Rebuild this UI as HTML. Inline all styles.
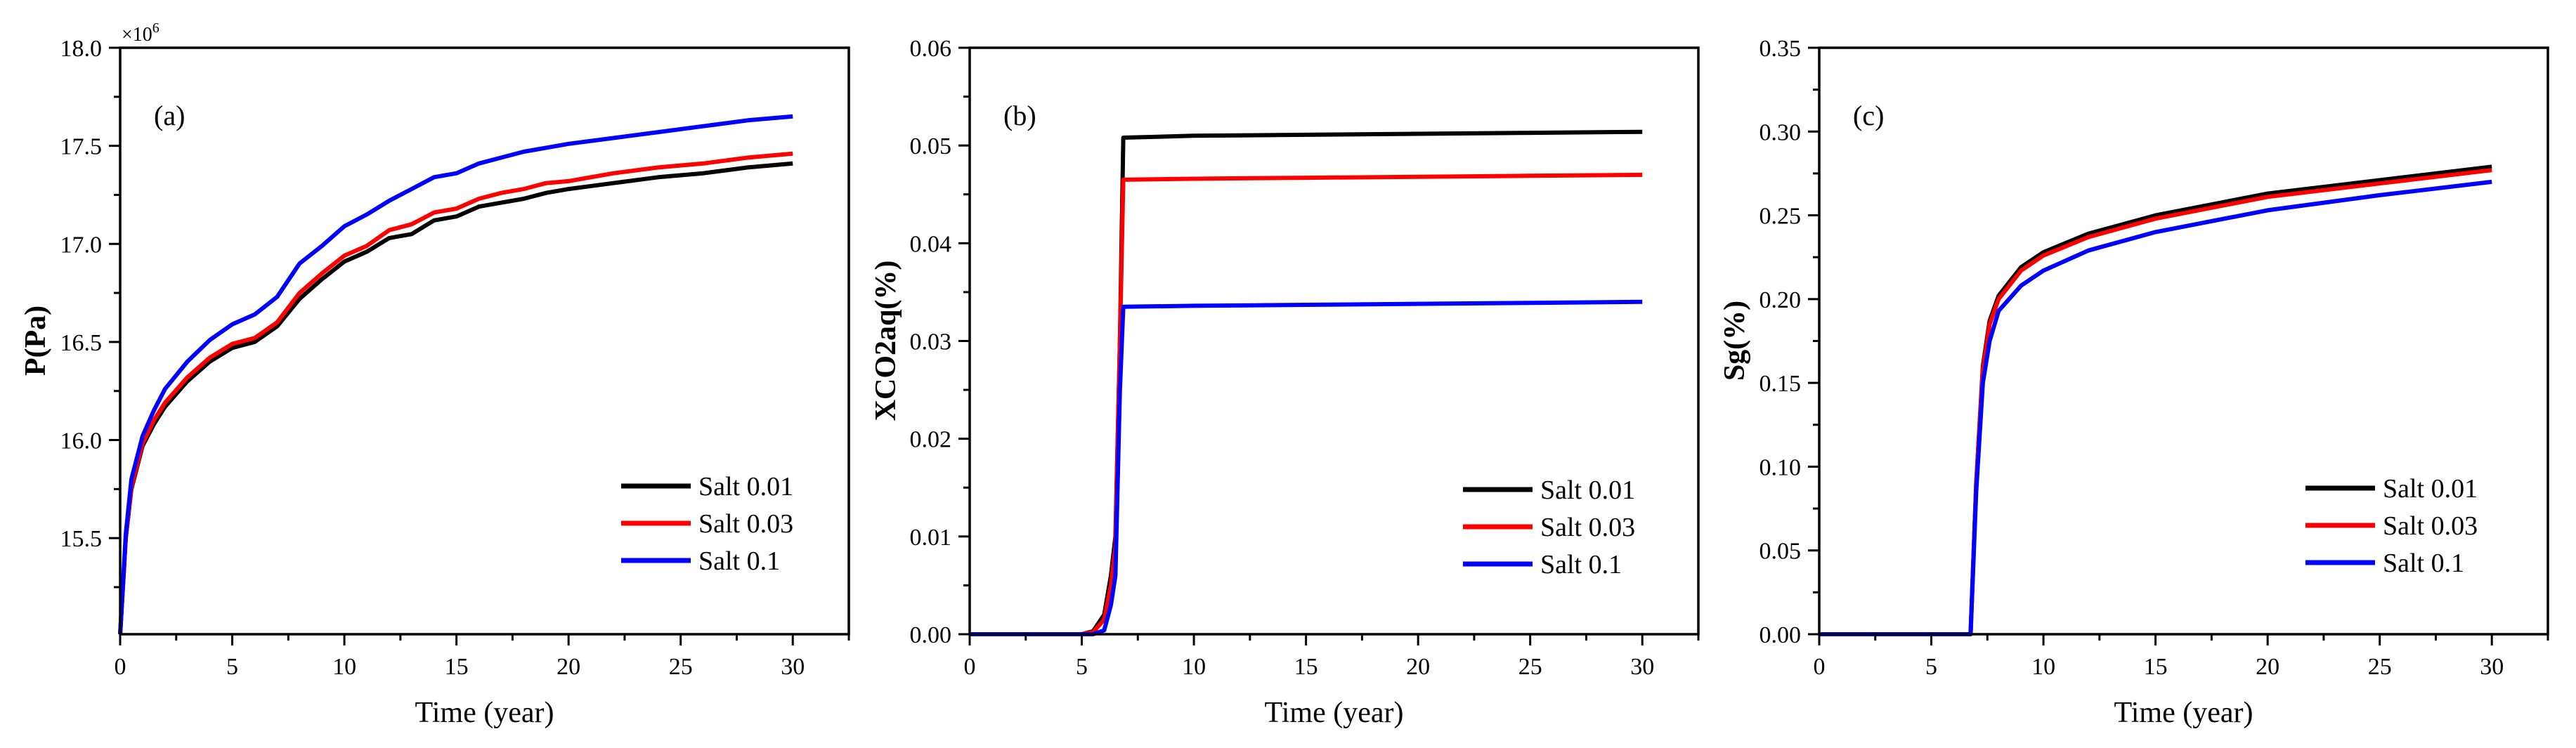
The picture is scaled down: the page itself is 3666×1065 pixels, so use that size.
<!DOCTYPE html>
<html><head><meta charset="utf-8"><style>
html,body{margin:0;padding:0;background:#fff;}
svg{display:block;}
text{font-family:"Liberation Serif","Times New Roman",serif;}
</style></head><body>
<svg id="fig" width="3666" height="1065" viewBox="0 0 3666 1065" xmlns="http://www.w3.org/2000/svg" font-family="Liberation Serif, serif"></svg>
<script>
// ---- data ----
const years = [0,0.25,0.5,1,1.5,2,3,4,5,6,7,8,9,10,11,12,13,14,15,16,17,18,19,20,22,24,26,28,30];
const pBlack = [15.01,15.5,15.75,15.97,16.08,16.17,16.30,16.40,16.47,16.50,16.58,16.72,16.82,16.91,16.96,17.03,17.05,17.12,17.14,17.19,17.21,17.23,17.26,17.28,17.31,17.34,17.36,17.39,17.41];
const pRed   = [15.01,15.5,15.76,15.98,16.10,16.19,16.32,16.42,16.49,16.52,16.60,16.75,16.85,16.94,16.99,17.07,17.10,17.16,17.18,17.23,17.26,17.28,17.31,17.32,17.36,17.39,17.41,17.44,17.46];
const pBlue  = [15.01,15.52,15.80,16.02,16.15,16.26,16.40,16.51,16.59,16.64,16.73,16.90,16.99,17.09,17.15,17.22,17.28,17.34,17.36,17.41,17.44,17.47,17.49,17.51,17.54,17.57,17.60,17.63,17.65];

const xYears = [0,5,5.5,6,6.3,6.5,6.7,6.85,10,15,20,25,30];
const xBlack = [0,0,0.0003,0.002,0.006,0.010,0.030,0.0508,0.0510,0.0511,0.0512,0.0513,0.0514];
const xRed   = [0,0,0.0002,0.0015,0.005,0.009,0.030,0.0465,0.0466,0.0467,0.0468,0.0469,0.0470];
const xBlue  = [0,0,0,0.0004,0.003,0.006,0.025,0.0335,0.0336,0.0337,0.0338,0.0339,0.0340];

const sYears = [0,6.75,7.0,7.3,7.6,8,9,10,12,15,20,25,30];
const sBlack = [0,0,0.09,0.16,0.187,0.202,0.219,0.228,0.239,0.250,0.263,0.271,0.279];
const sRed   = [0,0,0.09,0.158,0.185,0.200,0.217,0.226,0.237,0.248,0.261,0.269,0.277];
const sBlue  = [0,0,0.085,0.15,0.175,0.193,0.208,0.217,0.229,0.240,0.253,0.262,0.270];

const xTicks = [0,5,10,15,20,25,30];
const pTicks = [15.5,16.0,16.5,17.0,17.5,18.0];
const pTickLabels = ["15.5","16.0","16.5","17.0","17.5","18.0"];
const xcTicks = [0,0.01,0.02,0.03,0.04,0.05,0.06];
const xcTickLabels = ["0.00","0.01","0.02","0.03","0.04","0.05","0.06"];
const sTicks = [0,0.05,0.10,0.15,0.20,0.25,0.30,0.35];
const sTickLabels = ["0.00","0.05","0.10","0.15","0.20","0.25","0.30","0.35"];
const legendLabels = ["Salt 0.01","Salt 0.03","Salt 0.1"];
const colors = ["#000000","#ff0000","#0000ff"];

const NS="http://www.w3.org/2000/svg";
const svg=document.getElementById('fig');
function mk(tag,attrs,parent){const e=document.createElementNS(NS,tag);for(const k in attrs)e.setAttribute(k,attrs[k]);if(tag==='text')e.setAttribute('font-family','Liberation Serif, serif');(parent||svg).appendChild(e);return e;}

function panel(cfg){
  const L=cfg.left,R=L+1037,T=68,B=903;
  const g=mk('g',{});
  
  
  const sx=v=>L+(v-0)/(32.5)*(R-L);
  const sy=v=>B-(v-cfg.ymin)/(cfg.ymax-cfg.ymin)*(B-T);
  cfg.series.forEach((s,i)=>{
    const d=cfg.xs.map((x,j)=>(j?'L':'M')+sx(x).toFixed(1)+','+sy(s[j]).toFixed(1)).join(' ');
    const p=mk('path',{d:d,fill:'none',stroke:colors[i],'stroke-width':6,'stroke-linejoin':'round'},g);
    
    
  });
  const fr=mk('rect',{x:L,y:T,width:R-L,height:B-T,fill:'none',stroke:'#000','stroke-width':3.5},g);
  
  
  for(let v=0;v<=32.5+1e-9;v+=2.5){
    const major=Math.abs(v%5)<1e-9;
    mk('line',{x1:sx(v),x2:sx(v),y1:B,y2:B+(major?16:9),stroke:'#000','stroke-width':3},g);
  }
  xTicks.forEach(v=>{
    const t=mk('text',{x:sx(v),y:960,'font-size':34,'text-anchor':'middle'},g);
    t.textContent=v;
    
    
  });
  cfg.yticks.forEach((v,i)=>{
    mk('line',{x1:L-16,x2:L,y1:sy(v),y2:sy(v),stroke:'#000','stroke-width':3},g);
    const m=v-cfg.ystep/2;
    if(m>cfg.ymin) mk('line',{x1:L-9,x2:L,y1:sy(m),y2:sy(m),stroke:'#000','stroke-width':3},g);
    const t=mk('text',{x:L-26,y:sy(v)+12,'font-size':34,'text-anchor':'end'},g);
    t.textContent=cfg.ylabels[i];
    
    
  });
  const xt=mk('text',{x:(L+R)/2,y:1028,'font-size':42,'text-anchor':'middle'},g);
  xt.textContent='Time (year)';
  
  
  const yt=mk('text',{x:0,y:0,'font-size':42,'font-weight':'bold','text-anchor':'middle',transform:'translate('+cfg.ylx+',485) rotate(-90)'},g);
  yt.textContent=cfg.ytitle;
  
  
  const pl=mk('text',{x:L+48,y:178,'font-size':40},g);
  pl.textContent=cfg.tag;
  
  
  if(cfg.mult){
    const mt=mk('text',{x:L+2,y:58,'font-size':28},g);
    mt.innerHTML='×10<tspan dy="-12" font-size="20">6</tspan>';
    
    
  }
  legendLabels.forEach((lab,i)=>{
    const y=cfg.legY+i*53;
    const ln=mk('line',{x1:L+cfg.legX,x2:L+cfg.legX+99,y1:y,y2:y,stroke:colors[i],'stroke-width':7},g);
    
    
    const t=mk('text',{x:L+cfg.legX+110,y:y+13,'font-size':38},g);
    t.textContent=lab;
    
    
  });
}
panel({id:'pressure',left:171,ymin:15.01,ymax:18.0,ystep:0.5,yticks:pTicks,ylabels:pTickLabels,xs:years,series:[pBlack,pRed,pBlue],ytitle:'P(Pa)',ylx:64,tag:'(a)',mult:true,legX:713,legY:692});
panel({id:'xco2aq',left:1380,ymin:0,ymax:0.06,ystep:0.01,yticks:xcTicks,ylabels:xcTickLabels,xs:xYears,series:[xBlack,xRed,xBlue],ytitle:'XCO2aq(%)',ylx:1274,tag:'(b)',mult:false,legX:702,legY:697});
panel({id:'sg',left:2589,ymin:0,ymax:0.35,ystep:0.05,yticks:sTicks,ylabels:sTickLabels,xs:sYears,series:[sBlack,sRed,sBlue],ytitle:'Sg(%)',ylx:2482,tag:'(c)',mult:false,legX:692,legY:695});
</script>
</body></html>
